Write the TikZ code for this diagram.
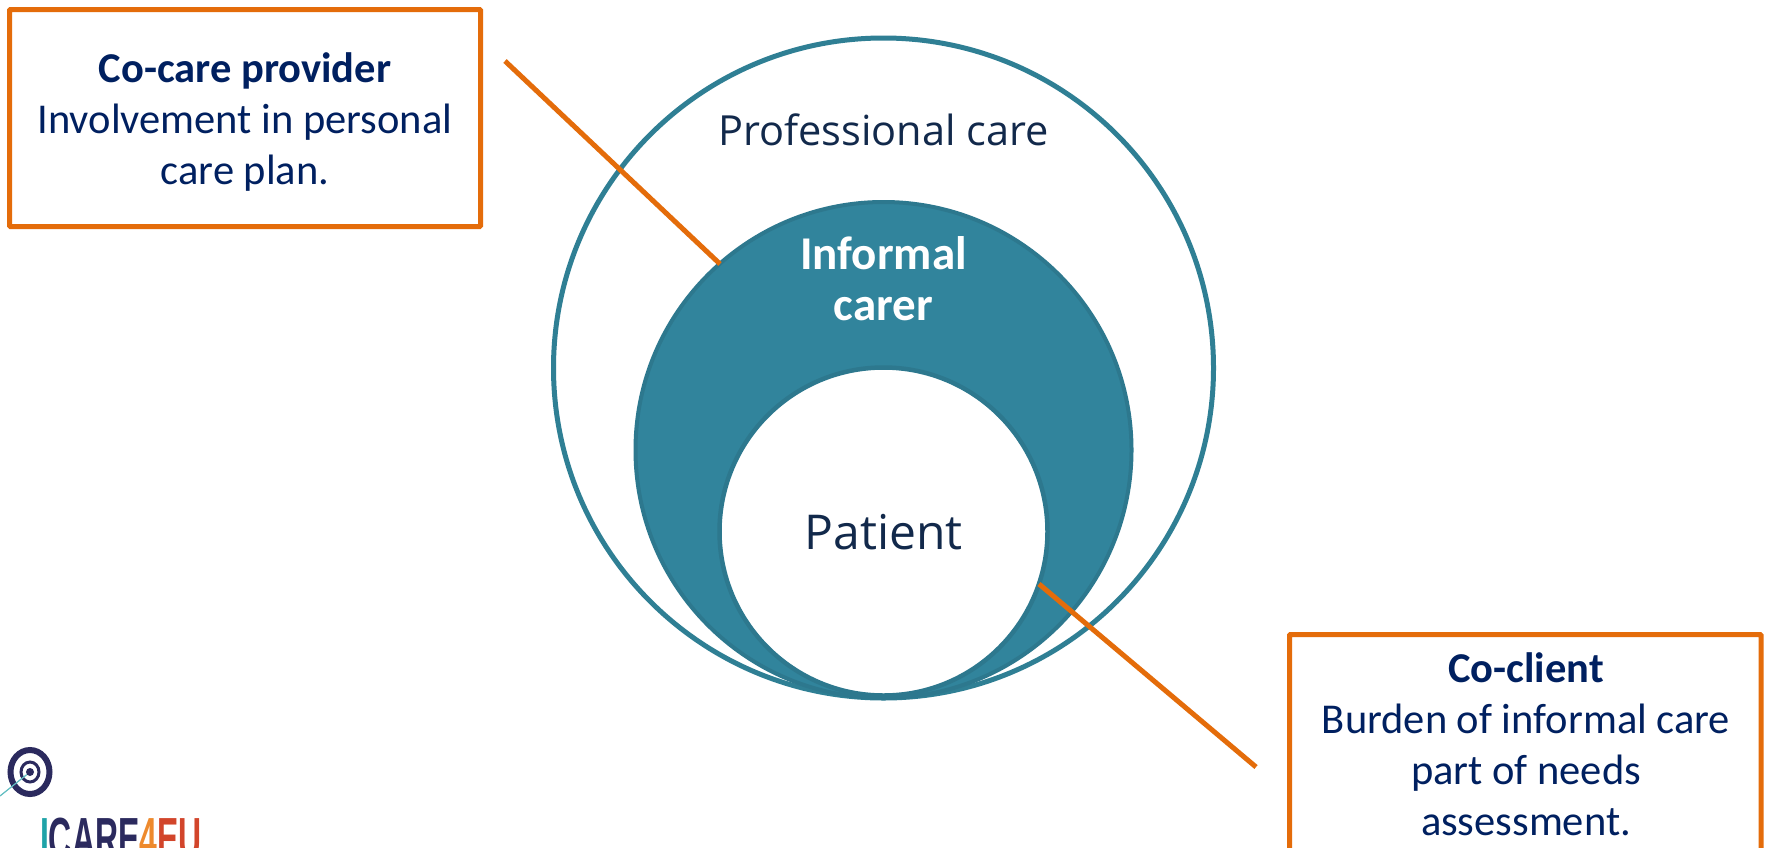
\documentclass[tikz,border=0pt]{standalone}
\usepackage{fontspec}
\usetikzlibrary{shapes.geometric}
\setmainfont{Carlito}
\newfontfamily\labelfont{Open Sans}
\newfontfamily\logofont{Liberation Sans}
\definecolor{teal1}{HTML}{31849C}
\definecolor{teal2}{HTML}{2D788E}
\definecolor{ringc}{HTML}{2F7F94}
\definecolor{orangec}{HTML}{E46C0A}
\definecolor{navyc}{HTML}{002060}
\definecolor{inkc}{HTML}{12294B}
\definecolor{logonavy}{HTML}{2B2A5E}
\definecolor{logoteal}{HTML}{1FA3A8}
\definecolor{logoorange}{HTML}{EE8A2D}
\definecolor{logored}{HTML}{D2452B}
\tikzset{
  ring/.style={circle,draw=ringc,line width=5pt,minimum size=#1,inner sep=0pt,fill=white},
  callout/.style={draw=orangec,line width=5pt,fill=white,rounded corners=1pt,inner sep=0pt},
  leader/.style={draw=orangec,line width=5pt},
  boxtext/.style={text=navyc,font=\fontsize{42.5}{51}\selectfont,align=center},
  logoring/.style={ellipse,draw=logonavy,inner sep=0pt},
}
\begin{document}
\begin{tikzpicture}[x=1pt,y=-1pt]
\useasboundingbox (0,0) rectangle (1769,847);
\fill[white] (0,0) rectangle (1769,847);
\clip (0,0) rectangle (1769,847);
\node[ring=660pt] (outer) at (883.5,368) {};
\node[circle,draw=teal2,line width=4pt,fill=teal1,minimum size=496pt,inner sep=0pt] (middle) at (883.5,450) {};
\node[circle,draw=teal2,line width=4.5pt,fill=white,minimum size=328pt,inner sep=0pt] (inner) at (883.5,531.5) {};
\node[text=inkc,font=\labelfont\fontsize{41.5}{50}\selectfont] (prof) at (883.5,130) {Professional care};
\node[text=white,font=\fontsize{47}{51}\selectfont\bfseries,align=center] (inf) at (883.5,279) {Informal\\carer};
\node[text=inkc,font=\labelfont\fontsize{48}{56}\selectfont] (pat) at (883.5,532) {Patient};
\draw[callout] (9.5,9.5) rectangle (480.5,226.5);
\node[boxtext] (t1) at (245,122) {\textbf{Co-care provider}\\Involvement in personal\\care plan.};
\draw[callout] (1289.5,634.5) rectangle (1761,900);
\node[boxtext] (t2) at (1526,744) {\textbf{Co-client}\\Burden of informal care\\part of needs\\assessment.};
\coordinate (a1) at (505,61);
\coordinate (a2) at (720,264);
\coordinate (b1) at (1039,584);
\coordinate (b2) at (1256,767);
\draw[leader] (a1) -- (a2);
\draw[leader] (b1) -- (b2);
% logo
\coordinate (lg0) at (0,796);
\node[logoring,line width=6pt,minimum width=39pt,minimum height=44pt] (lg1) at (30,772) {};
\node[logoring,line width=3pt,minimum width=18pt,minimum height=20pt] (lg2) at (30,772) {};
\node[ellipse,fill=logonavy,minimum width=8pt,minimum height=8pt,inner sep=0pt] (lg3) at (30,772) {};
\draw[logoteal!70,line width=1.2pt] (lg0) -- (lg3);
\node[anchor=north west,inner sep=0pt,font=\logofont\bfseries\fontsize{58}{58}\selectfont,xscale=0.55] (logo) at (40,818)
 {\textcolor{logoteal}{I}\textcolor{logonavy}{CARE}\textcolor{logoorange}{4}\textcolor{logored}{EU}};
\end{tikzpicture}
\end{document}
